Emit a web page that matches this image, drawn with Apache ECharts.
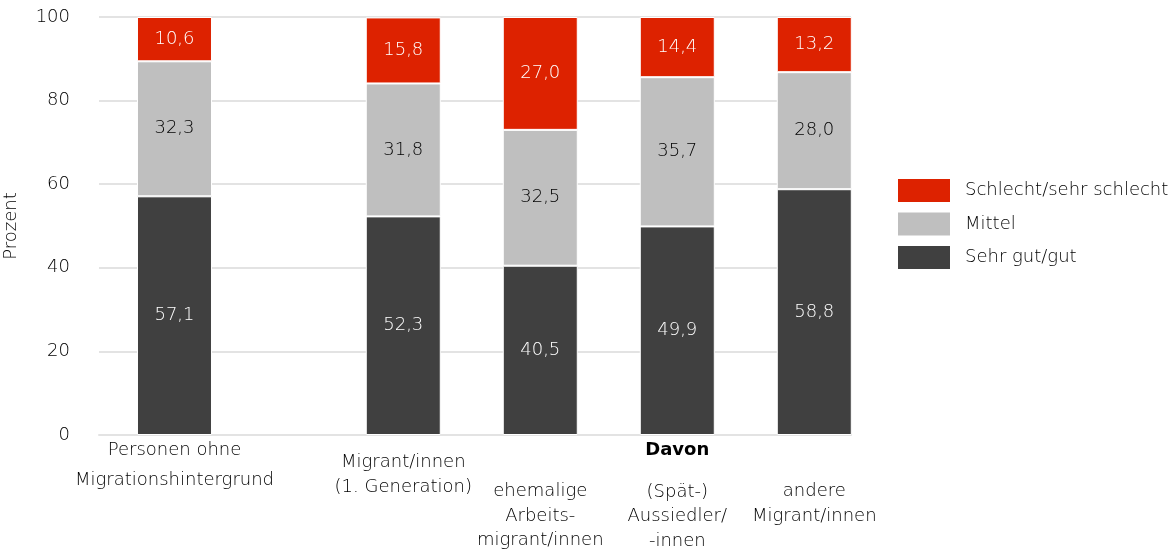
<!DOCTYPE html>
<html>
<head>
<meta charset="utf-8">
<script src="https://cdn.jsdelivr.net/npm/echarts@6/dist/echarts.min.js"></script>
<style>
  html, body { margin: 0; padding: 0; background: #fff; }
  #chart { width: 1176px; height: 552px; }
</style>
</head>
<body>
<div id="chart"></div>
<script>
// categories and their x positions (gap after the first group)
const categories = [
  'Personen ohne|Migrationshintergrund',
  'Migrant/innen|(1. Generation)',
  'ehemalige|Arbeits-|migrant/innen',
  '(Spät-)|Aussiedler/|-innen',
  'andere|Migrant/innen'
]
const positions = [0, 1.67, 2.67, 3.67, 4.67]
const groupLabel = 'Davon'

// series values (percent)
const sehrGut = [57.1, 52.3, 40.5, 49.9, 58.8]
const mittel = [32.3, 31.8, 32.5, 35.7, 28.0]
const schlecht = [10.6, 15.8, 27.0, 14.4, 13.2]

const seriesNames = ['Sehr gut/gut', 'Mittel', 'Schlecht/sehr schlecht']
const yTicks = [0, 20, 40, 60, 80, 100]

const FONT = 'DejaVu Sans'
const W = 200
const TEXT = '#000'
const colors = ['#404040', '#bfbfbf', '#dd2200']
const labelColors = ['#fff', '#000', '#fff']

const fmt = v => v.toFixed(1).replace('.', ',')

// value first so the stack runs on the y dimension
function pairs(values) {
  return values.map((v, i) => [v, positions[i]])
}

function axisLabelText(value) {
  const i = positions.indexOf(value)
  if (i < 0) return ''
  const lines = categories[i].split('|')
  if (i === 0) return lines.map(l => `{a|${l}}`).join('\n')
  if (i === 1) return ['{s1| }'].concat(lines.map(l => `{b|${l}}`)).join('\n')
  if (i === 3) return [`{d|${groupLabel}}`, '{s3| }'].concat(lines.map(l => `{c|${l}}`)).join('\n')
  return ['{s2| }'].concat(lines.map(l => `{c|${l}}`)).join('\n')
}

const chart = echarts.init(document.getElementById('chart'))

const dataSets = [sehrGut, mittel, schlecht]

chart.setOption({
  animation: false,
  textStyle: { fontFamily: FONT, fontWeight: W },
  grid: { left: 99, right: 325, top: 17, bottom: 117, outerBoundsMode: 'none', containLabel: false },
  legend: {
    orient: 'vertical',
    left: 898,
    top: 179,
    padding: 0,
    itemWidth: 52,
    itemHeight: 23,
    itemGap: 10.5,
    icon: 'rect',
    itemStyle: { borderWidth: 0 },
    data: ['Schlecht/sehr schlecht', 'Mittel', 'Sehr gut/gut'],
    textStyle: { fontFamily: FONT, fontWeight: W, fontSize: 18, color: TEXT, padding: [0, 0, 0, 10] }
  },
  xAxis: {
    type: 'value',
    min: -0.551,
    max: 4.938,
    splitLine: { show: false },
    axisTick: { show: false },
    axisLine: { show: true, lineStyle: { color: '#e3e3e3', width: 2 } },
    axisLabel: {
      customValues: positions,
      margin: 0,
      formatter: axisLabelText,
      color: TEXT,
      rich: {
        a: { fontFamily: FONT, fontWeight: W, fontSize: 18, lineHeight: 30, color: TEXT },
        b: { fontFamily: FONT, fontWeight: W, fontSize: 18, lineHeight: 25, color: TEXT },
        c: { fontFamily: FONT, fontWeight: W, fontSize: 18, lineHeight: 24.5, color: TEXT },
        d: { fontFamily: FONT, fontWeight: 'bold', fontSize: 18, lineHeight: 30, color: TEXT },
        s1: { fontSize: 10, lineHeight: 14.5 },
        s2: { fontSize: 10, lineHeight: 44.5 },
        s3: { fontSize: 10, lineHeight: 14.75 }
      }
    }
  },
  yAxis: {
    type: 'value',
    min: yTicks[0],
    max: yTicks[yTicks.length - 1],
    interval: 20,
    name: 'Prozent',
    nameLocation: 'middle',
    nameGap: 79,
    nameRotate: 90,
    nameTextStyle: { fontFamily: FONT, fontWeight: W, fontSize: 18, color: TEXT },
    axisLine: { show: false },
    axisTick: { show: false },
    axisLabel: { fontFamily: FONT, fontWeight: W, fontSize: 18, color: TEXT, margin: 29 },
    splitLine: { lineStyle: { color: '#e3e3e3', width: 2 } }
  },
  series: dataSets.map((values, k) => ({
    name: seriesNames[k],
    type: 'bar',
    stack: 'total',
    barWidth: 75,
    encode: { x: 1, y: 0 },
    data: pairs(values),
    itemStyle: { color: colors[k], borderColor: '#fff', borderWidth: 1 },
    label: {
      show: true,
      position: 'inside',
      fontFamily: FONT,
      fontWeight: W,
      fontSize: 18,
      color: labelColors[k],
      formatter: p => fmt(p.value[0])
    }
  }))
})
</script>
</body>
</html>
